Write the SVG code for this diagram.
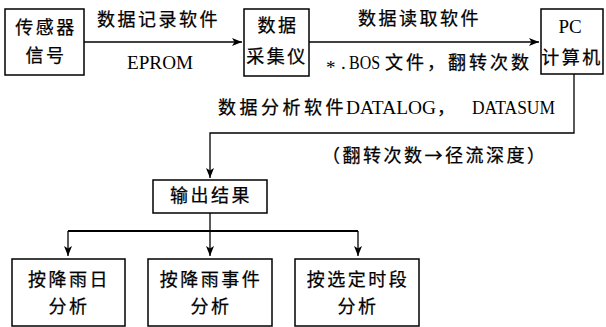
<svg xmlns="http://www.w3.org/2000/svg" width="606" height="327" viewBox="0 0 606 327">
<style>
.box{fill:#fff;stroke:#000;stroke-width:1.5}
.cj{font-family:"Noto Sans CJK SC","Noto Sans",sans-serif;font-size:18px;font-weight:400;letter-spacing:2.5px;fill:#000;stroke:#000;stroke-width:0.25}
.sf{font-family:"Liberation Serif",serif;font-size:19px;font-weight:400;letter-spacing:0;stroke:none}
.ln{fill:none;stroke:#000;stroke-width:1.3}
</style>
<defs>
<marker id="ah" viewBox="0 0 10 10" refX="10" refY="5" markerWidth="10" markerHeight="10" markerUnits="userSpaceOnUse" orient="auto">
<path d="M0,1 L10,5 L0,9 L2.5,5 Z" fill="#000"/>
</marker>
</defs>
<g id="connectors">
<line class="ln" x1="84" y1="42" x2="242" y2="42" marker-end="url(#ah)"/>
<line class="ln" x1="309" y1="42" x2="539" y2="42" marker-end="url(#ah)"/>
<polyline class="ln" points="574,74 574,133 210,133 210,178" marker-end="url(#ah)"/>
<line class="ln" x1="210" y1="213" x2="210" y2="231"/>
<line x1="68" y1="231" x2="358" y2="231" stroke="#000" stroke-width="2.2"/>
<line class="ln" x1="68" y1="231" x2="68" y2="256" marker-end="url(#ah)"/>
<line class="ln" x1="210" y1="231" x2="210" y2="256" marker-end="url(#ah)"/>
<line class="ln" x1="358" y1="231" x2="358" y2="256" marker-end="url(#ah)"/>
</g>
<g id="labels">
<text class="cj" x="97" y="26">数据记录软件</text>
<text class="sf" x="127" y="69" textLength="66" lengthAdjust="spacingAndGlyphs">EPROM</text>
<text class="cj" x="358" y="25">数据读取软件</text>
<text class="cj" y="69"><tspan class="sf" x="326" dy="5">*</tspan><tspan class="sf" x="341" dy="-5">.</tspan><tspan class="sf" x="349" textLength="31" lengthAdjust="spacingAndGlyphs">BOS</tspan><tspan x="385" letter-spacing="3">文件，翻转次数</tspan></text>
<text class="cj" y="114"><tspan x="218" letter-spacing="3.5">数据分析软件</tspan><tspan class="sf" x="346" textLength="90" lengthAdjust="spacingAndGlyphs">DATALOG</tspan><tspan x="437">，</tspan><tspan class="sf" x="472" textLength="83" lengthAdjust="spacingAndGlyphs">DATASUM</tspan></text>
<text class="cj" x="322" y="162" letter-spacing="1.7">（翻转次数→径流深度）</text>
</g>
<g id="n1">
<rect class="box" x="5" y="9" width="79" height="66"/>
<text class="cj" x="46" y="34" text-anchor="middle">传感器</text>
<text class="cj" x="46" y="62" text-anchor="middle">信号</text>
</g>
<g id="n2">
<rect class="box" x="244" y="9" width="65" height="67"/>
<text class="cj" x="278" y="32" text-anchor="middle">数据</text>
<text class="cj" x="277" y="63" text-anchor="middle" letter-spacing="1">采集仪</text>
</g>
<g id="n3">
<rect class="box" x="541" y="9" width="62" height="65"/>
<text class="sf" x="570" y="33" text-anchor="middle">PC</text>
<text class="cj" x="572" y="64" text-anchor="middle" letter-spacing="0.5">计算机</text>
</g>
<g id="n4">
<rect class="box" x="153" y="180" width="114" height="33"/>
<text class="cj" x="211" y="202" text-anchor="middle">输出结果</text>
</g>
<g id="n5">
<rect class="box" x="12" y="259" width="113" height="67"/>
<text class="cj" x="69" y="286" text-anchor="middle">按降雨日</text>
<text class="cj" x="69" y="313" text-anchor="middle">分析</text>
</g>
<g id="n6">
<rect class="box" x="148" y="259" width="124" height="67"/>
<text class="cj" x="211" y="286" text-anchor="middle">按降雨事件</text>
<text class="cj" x="211" y="313" text-anchor="middle">分析</text>
</g>
<g id="n7">
<rect class="box" x="295" y="259" width="124" height="67"/>
<text class="cj" x="358" y="286" text-anchor="middle">按选定时段</text>
<text class="cj" x="358" y="313" text-anchor="middle">分析</text>
</g>
</svg>
